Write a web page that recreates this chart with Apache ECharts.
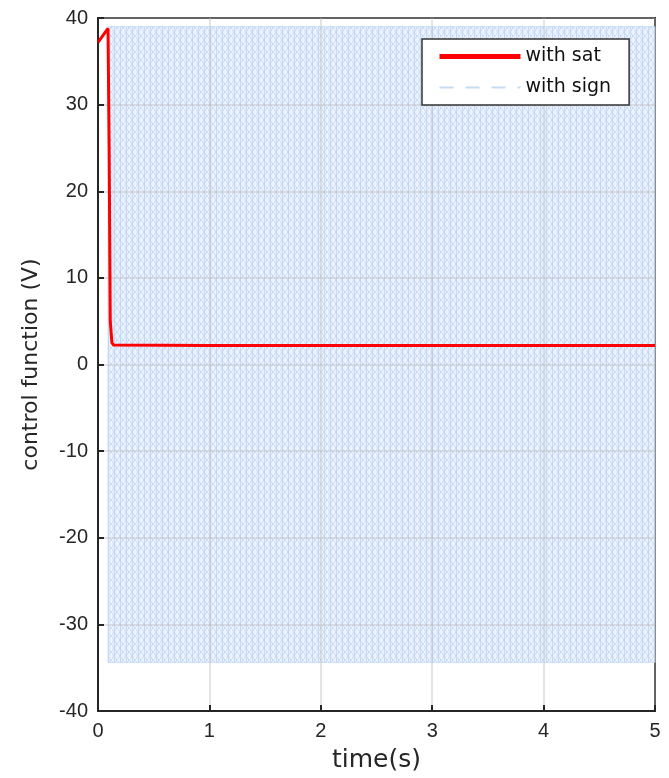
<!DOCTYPE html>
<html>
<head>
<meta charset="utf-8">
<script src="https://cdn.jsdelivr.net/npm/echarts@6/dist/echarts.min.js"></script>
<style>html,body{margin:0;padding:0;background:#fff}#c{width:669px;height:778px}</style>
</head>
<body>
<div id="c"></div>
<script>
// "with sat" control signal (time in s, value in V)
var satTime = [0, 0.09, 0.1, 0.11, 0.125, 0.14, 1, 2, 3, 4, 5];
var satValue = [37.2, 38.8, 25, 5, 2.5, 2.25, 2.2, 2.2, 2.2, 2.2, 2.2];
// "with sign" chattering envelope (switches between the two levels)
var signTime = [0.09, 1, 2, 3, 4, 5];
var signLow = [-34.4, -34.4, -34.4, -34.4, -34.4, -34.4];
var signHigh = [39, 39, 39, 39, 39, 39];
// axis ticks
var xTicks = [0, 1, 2, 3, 4, 5];
var yTicks = [-40, -30, -20, -10, 0, 10, 20, 30, 40];

function makePattern() {
  var c = document.createElement('canvas');
  c.width = 6; c.height = 8;
  var g = c.getContext('2d');
  g.fillStyle = 'rgba(230,239,252,0.85)';
  g.fillRect(0, 0, 6, 8);
  g.strokeStyle = 'rgba(195,216,244,0.9)';
  g.lineWidth = 1;
  g.beginPath();
  g.moveTo(0.5, 0); g.lineTo(0.5, 8);
  g.moveTo(0, 0); g.lineTo(3, 4); g.lineTo(6, 0);
  g.moveTo(0, 8); g.lineTo(3, 4); g.lineTo(6, 8);
  g.stroke();
  g.fillStyle = 'rgba(255,255,255,0.6)';
  g.fillRect(3, 1, 1, 2);
  g.fillRect(3, 5, 1, 2);
  return c;
}
var pattern = makePattern();

var chart = echarts.init(document.getElementById('c'));
var font = 'DejaVu Sans, Liberation Sans, Arial, sans-serif';
var tickFont = 'Liberation Sans, Arial, Helvetica, sans-serif';
var signHighPairs = signTime.map(function (t, i) { return [t, signHigh[i]]; });
var satPairs = satTime.map(function (t, i) { return [t, satValue[i]]; });

chart.setOption({
  animation: false,
  backgroundColor: '#ffffff',
  grid: { left: 98, right: 14, top: 18, bottom: 67, show: true, borderColor: '#262626', borderWidth: 2, backgroundColor: 'transparent' },
  legend: {
    left: 422, top: 39, orient: 'vertical',
    padding: [8, 18, 8, 15], itemGap: 12, itemWidth: 81, itemHeight: 16,
    backgroundColor: '#ffffff', borderColor: '#333333', borderWidth: 1.5, borderRadius: 0,
    textStyle: { fontFamily: font, fontSize: 19, color: '#111', padding: [0, 0, 0, 0] },
    data: [
      { name: 'with sat', itemStyle: { opacity: 0 }, lineStyle: { width: 5, color: '#ff0000' } },
      { name: 'with sign', itemStyle: { opacity: 0 }, lineStyle: { width: 2, color: '#c6dcf5', type: [14, 12] } }
    ]
  },
  xAxis: {
    type: 'value', min: 0, max: 5, interval: 1, z: 1.5,
    name: 'time(s)', nameLocation: 'middle', nameGap: 37,
    nameTextStyle: { fontFamily: font, fontSize: 25, color: '#262626' },
    axisLine: { show: true, onZero: false, lineStyle: { color: '#262626', width: 2 } },
    axisTick: { show: true, inside: true, length: 6, lineStyle: { color: '#262626', width: 2 } },
    axisLabel: { fontFamily: tickFont, fontSize: 20, color: '#262626', margin: 10 },
    splitLine: { show: true, lineStyle: { color: 'rgba(190,190,190,0.55)', width: 1.5 } }
  },
  yAxis: {
    type: 'value', min: -40, max: 40, interval: 10, z: 1.5,
    name: 'control function (V)', nameLocation: 'middle', nameGap: 56,
    nameTextStyle: { fontFamily: font, fontSize: 22, color: '#262626' },
    axisLine: { show: true, onZero: false, lineStyle: { color: '#262626', width: 2 } },
    axisTick: { show: true, inside: true, length: 6, lineStyle: { color: '#262626', width: 2 } },
    axisLabel: { fontFamily: tickFont, fontSize: 20, color: '#262626', margin: 10 },
    splitLine: { show: true, lineStyle: { color: 'rgba(190,190,190,0.55)', width: 1.5 } }
  },
  series: [
    {
      name: 'signFill', type: 'custom', z: 1, silent: true,
      data: signTime.map(function (t, i) { return [t, signLow[i], signHigh[i]]; }),
      renderItem: function (params, api) {
        if (params.dataIndex !== 0) return null;
        var pts = [];
        for (var i = 0; i < signTime.length; i++) pts.push(api.coord([signTime[i], signHigh[i]]));
        for (var j = signTime.length - 1; j >= 0; j--) pts.push(api.coord([signTime[j], signLow[j]]));
        return { type: 'polygon', shape: { points: pts }, style: { fill: { image: pattern, repeat: 'repeat' }, stroke: 'rgba(198,220,245,0.8)', lineWidth: 1 } };
      },
      encode: { x: 0, y: [1, 2] }
    },
    {
      name: 'with sign', type: 'line', data: signHighPairs, symbol: 'none',
      lineStyle: { width: 1, color: '#c6dcf5', type: [6, 4] },
      itemStyle: { color: '#c6dcf5' }, z: 2
    },
    {
      name: 'with sat', type: 'line', data: satPairs, symbol: 'none',
      lineStyle: { width: 3, color: '#ff0000' }, itemStyle: { color: '#ff0000' }, z: 3
    }
  ]
});
</script>
</body>
</html>
